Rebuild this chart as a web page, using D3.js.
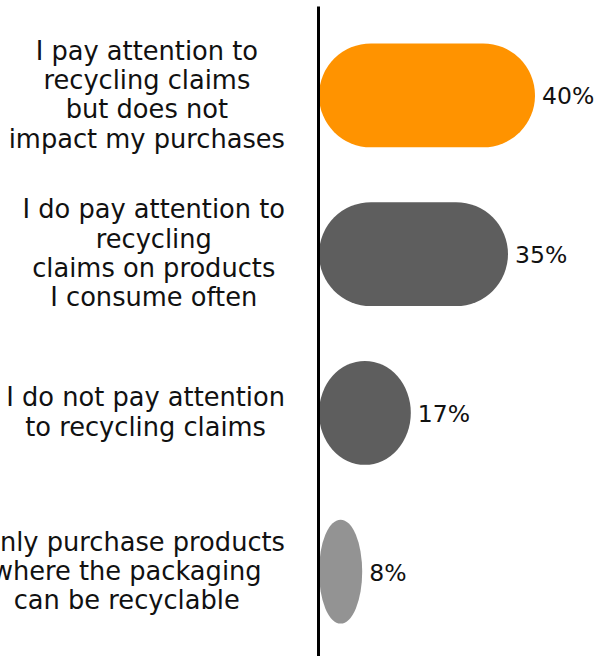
<!DOCTYPE html>
<html>
<head>
<meta charset="utf-8">
<script src="https://cdn.jsdelivr.net/npm/d3@7"></script>
<style>
  html, body { margin: 0; padding: 0; background: #fff; }
  svg { display: block; }
  text { font-family: "DejaVu Sans", "Open Sans", sans-serif; fill: #111; }
</style>
</head>
<body>
<div id="chart"></div>
<script>
// Survey answers, one per bar, with the line breaks used for their labels
const categories = [
  "pay-no-impact",
  "pay-often",
  "no-attention",
  "only-recyclable"
];
const labelLines = [
  ["I pay attention to", "recycling claims", "but does not", "impact my purchases"],
  ["I do pay attention to", "recycling", "claims on products", "I consume often"],
  ["I do not pay attention", "to recycling claims"],
  ["I only purchase products", "where the packaging", "can be recyclable"]
];
const values = [40, 35, 17, 8];
const palette = ["#ff9300", "#5e5e5e", "#5e5e5e", "#939393"];

const width = 608, height = 656;
const labelRight = 285;   // right edge of each label block
const lineStep = 29.3;    // line spacing of the category labels

const svg = d3.select("#chart").append("svg")
  .attr("width", width)
  .attr("height", height);

const x = d3.scaleLinear().domain([0, 50]).range([319, 589]);
const y = d3.scaleBand()
  .domain(categories)
  .range([16, 651])
  .paddingInner(0.345)
  .paddingOuter(0.1725);
const color = d3.scaleOrdinal().domain(categories).range(palette);

const rows = categories.map((c, i) => ({ key: c, value: values[i], lines: labelLines[i] }));

// Pill-shaped bars: corner radius is half the bar height (clamped by SVG for short bars)
const r = y.bandwidth() / 2;
svg.append("g").selectAll("rect")
  .data(rows)
  .join("rect")
  .attr("x", x(0))
  .attr("y", d => y(d.key))
  .attr("width", d => x(d.value) - x(0))
  .attr("height", y.bandwidth())
  .attr("rx", r)
  .attr("ry", r)
  .attr("fill", d => color(d.key));

// Value labels to the right of each bar
svg.append("g").selectAll("text")
  .data(rows)
  .join("text")
  .attr("x", d => x(d.value) + 7)
  .attr("y", d => y(d.key) + y.bandwidth() / 2)
  .attr("dy", "0.38em")
  .attr("font-size", 23.5)
  .text(d => d.value + "%");

// Category labels: each block is right-aligned, its lines centred within it
const labels = svg.append("g").selectAll("text")
  .data(rows)
  .join("text")
  .attr("font-size", 25.7)
  .attr("text-anchor", "middle");

labels.each(function(d) {
  const t = d3.select(this);
  const cy = y(d.key) + y.bandwidth() / 2;
  const n = d.lines.length;
  t.selectAll("tspan")
    .data(d.lines)
    .join("tspan")
    .attr("y", (l, j) => cy + (j - (n - 1) / 2) * lineStep)
    .attr("dy", "0.32em")
    .text(l => l);
  const widest = d3.max(t.selectAll("tspan").nodes(), n => n.getComputedTextLength());
  t.selectAll("tspan").attr("x", labelRight - widest / 2);
});

// Vertical baseline axis
const axis = d3.axisLeft(d3.scaleLinear().range([6, height])).ticks(0).tickSize(0).tickSizeOuter(0);
svg.append("g")
  .attr("transform", `translate(${x(0) - 1},0)`)
  .call(axis)
  .call(g => g.select(".domain").attr("stroke", "#000").attr("stroke-width", 3))
  .call(g => g.selectAll(".tick").remove());
</script>
</body>
</html>
